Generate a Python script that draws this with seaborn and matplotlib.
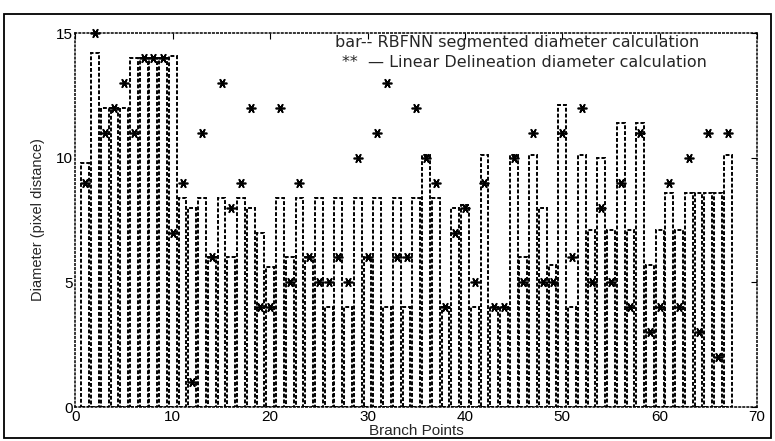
import matplotlib
matplotlib.use("Agg")
import seaborn as sns
from matplotlib import pyplot as plt
from matplotlib.patches import Rectangle

# values
branch_points = list(range(1, 68))
rbfnn_diam = [
    9.8, 14.2, 12, 12, 12, 14, 14, 14, 14, 14.1,
    8.4, 8.0, 8.4, 6, 8.4, 6, 8.4, 8.0, 7.0, 5.6,
    8.4, 6, 8.4, 6, 8.4, 4, 8.4, 4, 8.4, 6,
    8.4, 4, 8.4, 4, 8.4, 10.1, 8.4, 4, 8.0, 8.1,
    4, 10.1, 4, 4, 10.1, 6, 10.1, 8.0, 5.7, 12.1,
    4, 10.1, 7.1, 10, 7.1, 11.4, 7.1, 11.4, 5.7, 7.1,
    8.6, 7.1, 8.6, 8.6, 8.6, 8.6, 10.1,
]
linear_diam = [
    9, 15, 11, 12, 13, 11, 14, 14, 14, 7,
    9, 1, 11, 6, 13, 8, 9, 12, 4, 4,
    12, 5, 9, 6, 5, 5, 6, 5, 10, 6,
    11, 13, 6, 6, 12, 10, 9, 4, 7, 8,
    5, 9, 4, 4, 10, 5, 11, 5, 5, 11,
    6, 12, 5, 8, 5, 9, 4, 11, 3, 4,
    9, 4, 10, 3, 11, 2, 11,
]
x_ticks = [0, 10, 20, 30, 40, 50, 60, 70]
y_ticks = [0, 5, 10, 15]

sns.set_style("white")
plt.rcParams["font.family"] = ["Liberation Sans", "DejaVu Sans"]

fig = plt.figure(figsize=(7.75, 4.41), dpi=100)
ax = fig.add_axes([0.0974, 0.077, 0.8794, 0.848])

sns.barplot(
    x=branch_points, y=rbfnn_diam, native_scale=True, width=0.8,
    color="white", edgecolor="black", linewidth=1.4, linestyle=(0, (2, 1)),
    errorbar=None, ax=ax,
)
ax.plot(branch_points, linear_diam, linestyle="none", marker=(6, 2, 90),
        markersize=7, color="black", markeredgewidth=1.2, clip_on=False)

ax.set_xlim(0, 70)
ax.set_ylim(0, 15)
ax.set_xticks(x_ticks)
ax.set_xticklabels([str(t) for t in x_ticks])
ax.set_yticks(y_ticks)
ax.set_yticklabels([str(t) for t in y_ticks])
ax.tick_params(direction="in", top=True, right=True, length=4,
               labelsize=11, pad=2, colors="black")
for s in ax.spines.values():
    s.set_linestyle(":")
    s.set_linewidth(1.1)
    s.set_color("black")

ax.set_xlabel("Branch Points", fontsize=11, labelpad=0)
ax.set_ylabel("Diameter (pixel distance)", fontsize=10.5, labelpad=8)

ax.text(26.7, 14.64, "bar-- RBFNN segmented diameter calculation",
        fontsize=11.5, family="DejaVu Sans", ha="left", va="center")
ax.text(27.4, 13.8, "**  \u2014 Linear Delineation diameter calculation",
        fontsize=11.5, family="DejaVu Sans", ha="left", va="center")

# scanned page frame
fig.patches.append(Rectangle((0.005, 0.007), 0.99, 0.962, transform=fig.transFigure,
                             fill=False, edgecolor="black", linewidth=1.3))

fig.savefig("out.png", dpi=100)
